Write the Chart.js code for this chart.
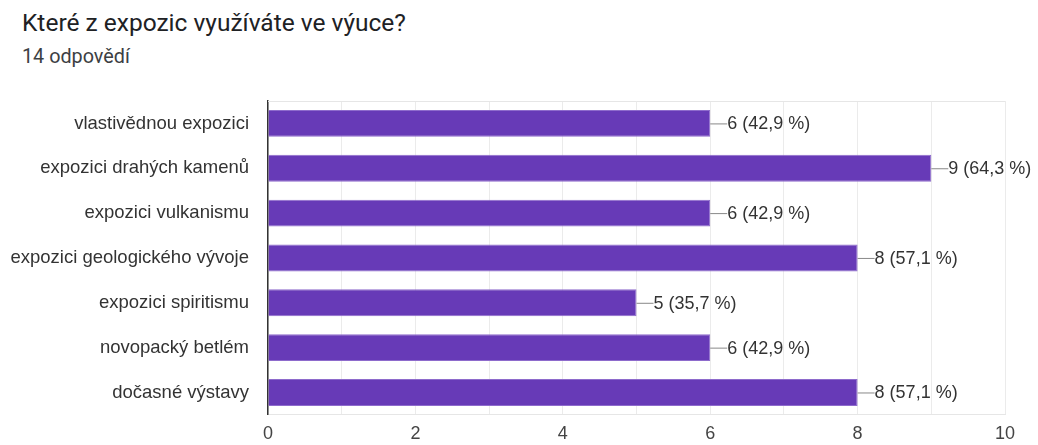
<!DOCTYPE html>
<html>
<head>
<meta charset="utf-8">
<script src="https://cdn.jsdelivr.net/npm/chart.js@4"></script>
<style>
    body { margin: 0; background: #fff; font-family: Roboto, sans-serif; }
    #wrap { position: relative; width: 1038px; height: 445px; }
    #title { position: absolute; left: 22px; top: 8px; font-size: 24.5px; color: #202124; line-height: 1.2; }
    #subtitle { position: absolute; left: 22px; top: 45px; font-size: 19.8px; color: #3c4043; line-height: 1.2; }
    canvas { position: absolute; left: 0; top: 0; }
</style>
</head>
<body>
<div id="wrap">
    <div id="title">Které z expozic využíváte ve výuce?</div>
    <div id="subtitle">14 odpovědí</div>
    <canvas id="chart" width="1038" height="445"></canvas>
</div>
<script>
const categories = [
    'vlastivědnou expozici',
    'expozici drahých kamenů',
    'expozici vulkanismu',
    'expozici geologického vývoje',
    'expozici spiritismu',
    'novopacký betlém',
    'dočasné výstavy'
];
const counts = [6, 9, 6, 8, 5, 6, 8];
const percents = ['42,9', '64,3', '42,9', '57,1', '35,7', '42,9', '57,1'];

const ctx = document.getElementById('chart').getContext('2d');

// leader line + "n (x %)" label at the end of each bar, plus light frame on top
const barLabels = {
    id: 'barLabels',
    beforeDatasetsDraw(chart) {
        const { ctx, chartArea: a } = chart;
        ctx.save();
        ctx.strokeStyle = '#e6e6e6';
        ctx.lineWidth = 1;
        ctx.beginPath();
        ctx.moveTo(a.left, a.top + 0.5);
        ctx.lineTo(a.right, a.top + 0.5);
        ctx.stroke();
        ctx.restore();
    },
    afterDatasetsDraw(chart) {
        const { ctx } = chart;
        const meta = chart.getDatasetMeta(0);
        ctx.save();
        ctx.font = '18px "Liberation Sans", Arial, sans-serif';
        ctx.textBaseline = 'middle';
        meta.data.forEach((bar, i) => {
            ctx.strokeStyle = '#888';
            ctx.lineWidth = 1;
            ctx.beginPath();
            ctx.moveTo(bar.x, bar.y + 0.5);
            ctx.lineTo(bar.x + 17, bar.y + 0.5);
            ctx.stroke();
            ctx.fillStyle = '#333';
            ctx.fillText(counts[i] + ' (' + percents[i] + ' %)', bar.x + 17, bar.y + 1);
        });
        ctx.restore();
    }
};

new Chart(ctx, {
    type: 'bar',
    data: {
        labels: categories,
        datasets: [{
            data: counts,
            backgroundColor: '#673ab7',
            borderColor: '#8e6bcc',
            borderWidth: 1,
            barPercentage: 0.6,
            categoryPercentage: 1
        }]
    },
    options: {
        indexAxis: 'y',
        responsive: false,
        animation: false,
        layout: { padding: { top: 101, right: 33, left: 0, bottom: 0 } },
        plugins: {
            legend: { display: false },
            tooltip: { enabled: false }
        },
        scales: {
            x: {
                min: 0,
                max: 10,
                ticks: {
                    stepSize: 1,
                    autoSkip: false,
                    maxRotation: 0,
                    color: '#444',
                    font: { family: '"Liberation Sans", Arial', size: 18 },
                    padding: 8,
                    callback: v => (v % 2 === 0 ? v : '')
                },
                grid: { color: '#ebebeb', drawTicks: false },
                border: { color: '#e6e6e6' },
                afterFit(scale) { scale.height = 28; }
            },
            y: {
                ticks: {
                    color: '#333',
                    font: { family: '"Liberation Sans", Arial', size: 18.5 },
                    padding: 19
                },
                grid: { display: false, drawTicks: false },
                border: { color: '#333', width: 1.5 },
                afterFit(scale) { scale.width = 268; }
            }
        }
    },
    plugins: [barLabels]
});
</script>
</body>
</html>
